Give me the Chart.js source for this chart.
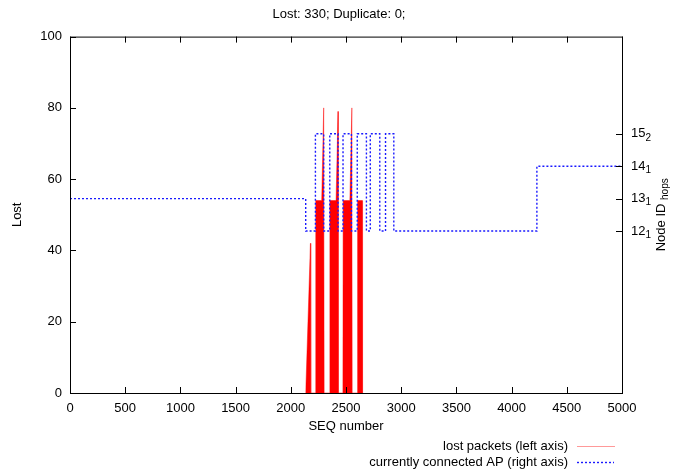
<!DOCTYPE html>
<html lang="en">

<head>
  <meta charset="UTF-8">
  <title>Lost packets</title>
  <script src="https://cdn.jsdelivr.net/npm/chart.js"></script>
  <style>
    body {
      margin: 0;
      background: #fff;
    }

    .chart-box {
      position: relative;
      width: 678px;
      height: 471px;
    }
  </style>
</head>

<body>
  <div class="chart-box">
    <canvas id="lostChart" width="678" height="471"></canvas>
  </div>

  <script>
    // lost packets (left axis)
    const lostSeq = [2135, 2178, 2181, 2224, 2226, 2280, 2298, 2302, 2352, 2354, 2410, 2428, 2430, 2472, 2474, 2535, 2553, 2556, 2603, 2605, 2647, 2650];
    const lostVal = [0, 42, 0, 0, 54, 54, 80, 0, 0, 54, 54, 79, 0, 0, 54, 54, 80, 0, 0, 54, 54, 0];

    // currently connected AP (right axis), value holds until next seq
    const apSeq = [0, 2135, 2223, 2298, 2353, 2428, 2473, 2549, 2602, 2685, 2720, 2806, 2858, 2933, 4229, 5000];
    const apNode = [13, 12, 15, 12, 15, 12, 15, 12, 15, 12, 15, 12, 15, 12, 14, 14];

    // right axis tick labels: node id with hop count as subscript
    const nodeTicks = [12, 13, 14, 15];
    const nodeHops = [1, 1, 1, 2];

    const legendLabels = ["lost packets (left axis)", "currently connected AP (right axis)"];

    const FONT = '"Liberation Sans", Arial, sans-serif';
    const toPoints = (xs, ys) => xs.map((x, i) => ({ x: x, y: ys[i] }));

    // frame, inward ticks, right axis labels/title and the legend, gnuplot style
    const gnuplotPlugin = {
      id: "gnuplotFrame",
      afterDatasetsDraw(chart) {
        const ctx = chart.ctx;
        const { left, right, top, bottom } = chart.chartArea;
        const xs = chart.scales.x, ys = chart.scales.y, y2 = chart.scales.y2;
        const tl = 6;
        ctx.save();
        ctx.strokeStyle = "#000";
        ctx.lineWidth = 1;
        ctx.strokeRect(left + 0.5, top + 0.5, right - left, bottom - top);

        ctx.beginPath();
        xs.ticks.forEach(t => {
          const px = Math.round(xs.getPixelForValue(t.value)) + 0.5;
          ctx.moveTo(px, bottom); ctx.lineTo(px, bottom - tl);
          ctx.moveTo(px, top); ctx.lineTo(px, top + tl);
        });
        ys.ticks.forEach(t => {
          const py = Math.round(ys.getPixelForValue(t.value)) + 0.5;
          ctx.moveTo(left, py); ctx.lineTo(left + tl, py);
        });
        nodeTicks.forEach(v => {
          const py = Math.round(y2.getPixelForValue(v)) + 0.5;
          ctx.moveTo(right, py); ctx.lineTo(right - tl, py);
        });
        ctx.stroke();

        // right tick labels with subscript
        ctx.fillStyle = "#000";
        ctx.textBaseline = "middle";
        ctx.textAlign = "left";
        nodeTicks.forEach((v, i) => {
          const py = y2.getPixelForValue(v);
          ctx.font = "13px " + FONT;
          const s = String(v);
          ctx.fillText(s, right + 9, py);
          const w = ctx.measureText(s).width;
          ctx.font = "10px " + FONT;
          ctx.fillText(String(nodeHops[i]), right + 9 + w, py + 4);
        });

        // right axis title "Node ID" with subscript "hops"
        ctx.save();
        ctx.translate(661, (top + bottom) / 2);
        ctx.rotate(-Math.PI / 2);
        ctx.font = "13px " + FONT;
        const main = "Node ID ";
        const w1 = ctx.measureText(main).width;
        ctx.font = "10px " + FONT;
        const w2 = ctx.measureText("hops").width;
        const x0 = -(w1 + w2) / 2;
        ctx.font = "13px " + FONT;
        ctx.fillText(main, x0, 0);
        ctx.font = "10px " + FONT;
        ctx.fillText("hops", x0 + w1, 4);
        ctx.restore();

        // legend, text right aligned, sample to the right
        ctx.font = "13px " + FONT;
        ctx.textAlign = "right";
        ctx.fillText(legendLabels[0], 568, 446);
        ctx.fillText(legendLabels[1], 568, 462);
        ctx.strokeStyle = "rgba(255,0,0,0.4)";
        ctx.beginPath();
        ctx.moveTo(577, 446.5); ctx.lineTo(615, 446.5);
        ctx.stroke();
        ctx.strokeStyle = "#1a1aff";
        ctx.lineWidth = 1.4;
        ctx.setLineDash([2, 2]);
        ctx.beginPath();
        ctx.moveTo(577, 462.5); ctx.lineTo(614, 462.5);
        ctx.stroke();
        ctx.restore();
      }
    };

    function generateChart() {
      const ctx = document.getElementById("lostChart").getContext("2d");
      new Chart(ctx, {
        type: "line",
        data: {
          datasets: [
            {
              label: legendLabels[1],
              data: toPoints(apSeq, apNode),
              yAxisID: "y2",
              stepped: true,
              borderColor: "#1a1aff",
              borderWidth: 1.4,
              borderDash: [2, 2],
              pointRadius: 0,
              fill: false,
              order: 1
            },
            {
              label: legendLabels[0],
              data: toPoints(lostSeq, lostVal),
              yAxisID: "y",
              borderColor: "rgba(255,0,0,0.45)",
              borderWidth: 1,
              backgroundColor: "#ff0000",
              pointRadius: 0,
              tension: 0,
              fill: "origin",
              order: 2
            }
          ]
        },
        options: {
          responsive: false,
          animation: false,
          events: [],
          layout: { padding: 0 },
          plugins: {
            legend: { display: false },
            tooltip: { enabled: false },
            title: {
              display: true,
              text: "Lost: 330; Duplicate: 0;",
              color: "#000",
              font: { family: FONT, size: 13, weight: "normal" },
              padding: { top: 7, bottom: 14 }
            }
          },
          scales: {
            x: {
              type: "linear",
              min: 0,
              max: 5000,
              grid: { display: false, drawTicks: false },
              border: { display: false },
              ticks: { stepSize: 500, color: "#000", padding: 8, maxRotation: 0, font: { family: FONT, size: 13 }, callback: v => String(v) },
              title: { display: true, text: "SEQ number", color: "#000", font: { family: FONT, size: 13 }, padding: { top: 0, bottom: 37 } },
              afterFit: s => { s.height = 78; }
            },
            y: {
              position: "left",
              min: 0,
              max: 100,
              grid: { display: false, drawTicks: false },
              border: { display: false },
              ticks: { stepSize: 20, color: "#000", padding: 8, font: { family: FONT, size: 13 } },
              title: { display: true, text: "Lost", color: "#000", font: { family: FONT, size: 13 }, padding: { top: 10, bottom: 0 } },
              afterFit: s => { s.width = 70; }
            },
            y2: {
              position: "right",
              min: 7,
              max: 18,
              grid: { display: false, drawTicks: false },
              border: { display: false },
              ticks: { display: false },
              afterBuildTicks: s => { s.ticks = nodeTicks.map(v => ({ value: v })); },
              afterFit: s => { s.width = 56; }
            }
          }
        },
        plugins: [gnuplotPlugin]
      });
    }

    window.onload = generateChart;
  </script>
</body>

</html>
